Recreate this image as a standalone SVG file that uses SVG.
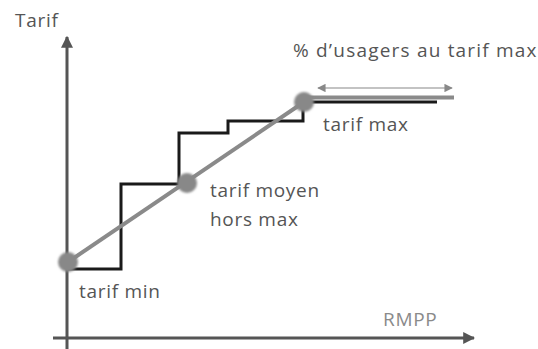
<svg xmlns="http://www.w3.org/2000/svg" width="538" height="349" viewBox="0 0 538 349">
<style>
.t{font-family:"Open Sans","DejaVu Sans",sans-serif;font-size:19px;letter-spacing:0.7px;fill:#555}
.axis{stroke:#555;stroke-width:3;fill:none}
.step{stroke:#1a1a1a;stroke-width:3;fill:none}
.diag{stroke:#8a8a8a;stroke-width:4;fill:none}
.pt{fill:#888;filter:url(#soft)}
</style>
<defs>
<marker id="ah" viewBox="0 0 10 10" refX="9" refY="5" markerWidth="4" markerHeight="4" orient="auto-start-reverse" markerUnits="strokeWidth"><path d="M0,0 L10,5 L0,10 z" fill="#555"/></marker>
<marker id="ah2" viewBox="0 0 10 10" refX="9" refY="5" markerWidth="7" markerHeight="7" orient="auto-start-reverse" markerUnits="strokeWidth"><path d="M0,0 L10,5 L0,10 z" fill="#888"/></marker>
<filter id="soft" x="-30%" y="-30%" width="160%" height="160%"><feGaussianBlur stdDeviation="0.8"/></filter>
</defs>
<g id="axes">
<line class="axis" x1="67" y1="349" x2="67" y2="37" marker-end="url(#ah)"/>
<line class="axis" x1="53" y1="338" x2="474" y2="338" marker-end="url(#ah)"/>
</g>
<g id="connectors">
<polyline class="step" points="68,269 121,269 121,184 179,184 179,133 228,133 228,121 303,121 303,104"/>
<line class="step" x1="304" y1="102" x2="437" y2="102"/>
<line class="diag" x1="304" y1="97.5" x2="454" y2="97.5" stroke-width="3.5"/>
<line class="diag" x1="68" y1="262" x2="304" y2="102"/>
<line x1="318" y1="88" x2="452" y2="88" stroke="#888" stroke-width="1.2" marker-start="url(#ah2)" marker-end="url(#ah2)"/>
</g>
<g id="p-min"><circle class="pt" cx="68" cy="262" r="10"/></g>
<g id="p-moyen"><circle class="pt" cx="187" cy="183" r="10"/></g>
<g id="p-max"><circle class="pt" cx="304" cy="102" r="10"/></g>
<g id="labels">
<text class="t" x="15" y="27">Tarif</text>
<text class="t" x="293" y="57" style="letter-spacing:1.2px">% d’usagers au tarif max</text>
<text class="t" x="323" y="131">tarif max</text>
<text class="t" x="210" y="197">tarif moyen</text>
<text class="t" x="210" y="226">hors max</text>
<text class="t" x="79" y="298">tarif min</text>
<text class="t" x="383" y="326" style="fill:#8a8a8a">RMPP</text>
</g>
</svg>
